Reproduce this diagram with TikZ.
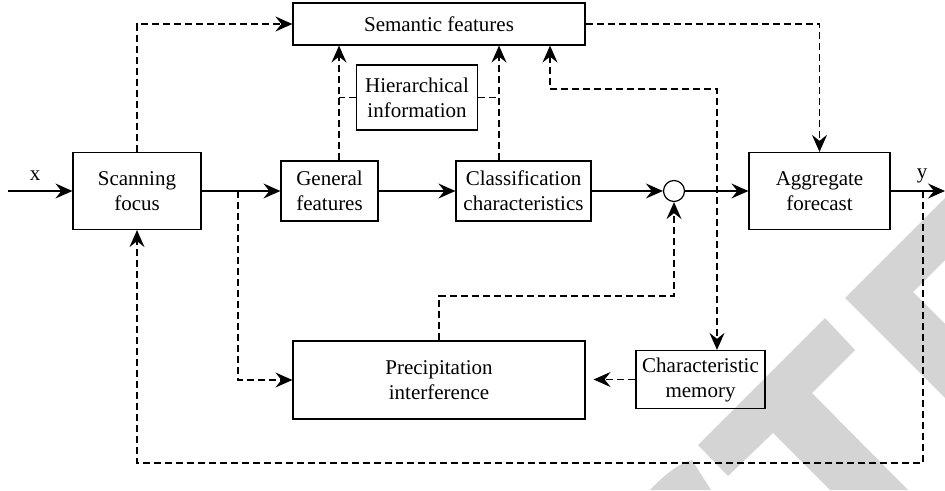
\documentclass[tikz,border=0pt]{standalone}
\usepackage{fontspec}
\setmainfont{Liberation Serif}
\usetikzlibrary{arrows.meta,calc}
\definecolor{wmgray}{RGB}{212,212,212}
\begin{document}
\begin{tikzpicture}[x=1pt,y=-1pt,
  tip/.tip={Stealth[length=17pt,width=15pt,inset=6pt]},
  box/.style={draw,line width=1.2pt,align=center,inner sep=0pt},
  arr/.style={line width=1.2pt,-tip},
  darr/.style={arr,dash pattern=on 7pt off 4pt},
  ddarr/.style={line width=1.2pt,dash pattern=on 7pt off 4pt,tip-tip},
  dline/.style={line width=1.2pt,dash pattern=on 7pt off 4pt},
  font=\fontsize{21}{25}\selectfont]
\useasboundingbox (0,0) rectangle (945,490);
% watermark
\fill[wmgray] (698,445) -- (825,318) -- (855,350) -- (812,393) -- (908,490) -- (830,490) -- (773,433) -- (728,476) -- cycle;
\fill[wmgray] (845,298) -- (945,198) -- (945,260) -- (913,292) -- (945,324) -- (945,398) -- cycle;
\fill[wmgray] (650,490) .. controls (665,474) and (680,463) .. (692,460) -- (711,490) -- cycle;
% nodes
\node[box,minimum width=128pt,minimum height=77pt] (scan) at (137,191) {Scanning\\focus};
\node[box,minimum width=97pt,minimum height=60pt] (gen) at (329.5,191) {General\\features};
\node[box,minimum width=135pt,minimum height=60pt] (cls) at (523.5,191) {Classification\\characteristics};
\node[draw,circle,line width=1.2pt,minimum size=21pt,inner sep=0pt] (circ) at (674,191) {};
\node[box,minimum width=141pt,minimum height=77pt] (agg) at (819.5,191) {Aggregate\\forecast};
\node[box,minimum width=292pt,minimum height=42pt] (sem) at (439,24) {Semantic features};
\node[box,minimum width=121pt,minimum height=65pt] (hier) at (417,97.5) {Hierarchical\\information};
\node[box,minimum width=292pt,minimum height=78pt] (prec) at (439,380) {Precipitation\\interference};
\node[box,minimum width=129pt,minimum height=58pt] (mem) at (700.5,379.5) {Characteristic\\memory};
\node (xl) at (35,176) {x};
\node (yl) at (922,176) {y};
% coordinates
\coordinate (xin) at (8,191);
\coordinate (yout) at (945,191);
\coordinate (g1) at (339,0);
\coordinate (c1) at (499,0);
\coordinate (s1) at (550,89);
\coordinate (m1) at (717,89);
\coordinate (sp) at (238,191);
\coordinate (p1) at (0,296);
\coordinate (fb) at (923,191);
\coordinate (b1) at (0,463);
% solid connectors
\draw[arr] (xin) -- (scan.west);
\draw[arr] (scan.east) -- (gen.west);
\draw[arr] (gen.east) -- (cls.west);
\draw[arr] (cls.east) -- (circ.west);
\draw[arr] (circ.east) -- (agg.west);
\draw[arr] (agg.east) -- (yout);
% dashed connectors
\draw[darr] (scan.north) |- (sem.west);
\draw[darr] (gen.north -| g1) -- (sem.south -| g1);
\draw[darr] (cls.north -| c1) -- (sem.south -| c1);
\draw[dline] (hier.west) -- (hier.west -| g1);
\draw[dline] (hier.east) -- (hier.east -| c1);
\draw[darr] (sem.east) -| (agg.north);
\draw[ddarr] (sem.south -| s1) -- (s1) -- (m1) -- (mem.north -| m1);
\draw[darr] (mem.west) -- ([xshift=8pt]prec.east |- mem.west);
\draw[darr] (sp) |- (prec.west);
\draw[darr] (prec.north) |- (p1 -| circ.south) -- (circ.south);
\draw[darr] (fb) |- (b1 -| scan.south) -- (scan.south);
\end{tikzpicture}
\end{document}
